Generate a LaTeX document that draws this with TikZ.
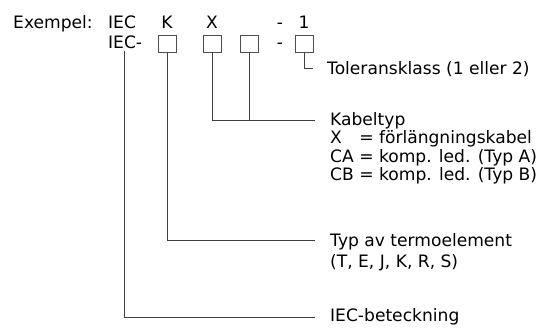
\documentclass[tikz,border=0pt]{standalone}
\usepackage{fontspec}
\setmainfont{DejaVu Sans}
\begin{document}
\begin{tikzpicture}[x=1pt,y=1pt,
  txt/.style={anchor=base west,inner sep=0pt,font=\fontsize{17.1}{20}\selectfont},
  ctxt/.style={anchor=base,inner sep=0pt,font=\fontsize{17.1}{20}\selectfont},
  slot/.style={draw=black!70,line width=0.8pt,minimum width=18pt,minimum height=17pt,inner sep=0pt},
  conn/.style={draw=black!75,line width=0.8pt}]
\useasboundingbox (0,0) rectangle (543,-327);
% row 1
\node[txt] (ex) at (13,-28) {Exempel:};
\node[txt] (iec1) at (108,-28) {IEC};
\node[ctxt] (k) at (167,-28) {K};
\node[ctxt] (x) at (212,-28) {X};
\node[ctxt] (d1) at (280,-28) {-};
\node[ctxt] (one) at (304,-28) {1};
% row 2
\node[txt] (iec2) at (108,-48) {IEC-};
\node[slot] (b1) at (167,-44) {};
\node[slot] (b2) at (212,-44) {};
\node[slot] (b3) at (249,-44) {};
\node[ctxt] (d2) at (280,-48) {-};
\node[slot] (b4) at (304,-44) {};
% labels
\node[txt] (tol) at (327,-74) {Toleransklass (1 eller 2)};
\node[txt] (kab) at (330,-125) {Kabeltyp};
\node[txt] (kx) at (330,-143.5) {\rlap{X}\phantom{CA} = förlängningskabel};
\node[txt] (kca) at (330,-162) {CA = komp. led. (Typ A)};
\node[txt] (kcb) at (330,-180.5) {CB = komp. led. (Typ B)};
\node[txt] (typ) at (330,-246) {Typ av termoelement};
\node[txt] (typ2) at (330,-267) {(T, E, J, K, R, S)};
\node[txt] (iecb) at (330,-321.5) {IEC-beteckning};
% connector ends
\coordinate (iecs) at (124,-51);
\coordinate (e4) at (313,-68);
\coordinate (e23) at (315,-120);
\coordinate (e1) at (315,-240);
\coordinate (e0) at (315,-317);
\draw[conn] (b4.south) |- (e4);
\draw[conn] (b2.south) |- (e23);
\draw[conn] (b3.south) -- (b3.south |- e23);
\draw[conn] (b1.south) |- (e1);
\draw[conn] (iecs) |- (e0);
\end{tikzpicture}
\end{document}
